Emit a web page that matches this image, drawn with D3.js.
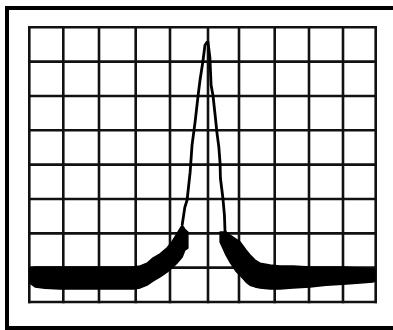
<!DOCTYPE html>
<html>
<head>
<meta charset="utf-8">
<script src="https://cdn.jsdelivr.net/npm/d3@7"></script>
<style>
  html, body { margin: 0; padding: 0; background: #fff; }
  svg { display: block; }
</style>
</head>
<body>
<svg id="chart" width="393" height="330"></svg>
<script>
// ---- data (in screen divisions) ----
const xTicks = [0, 1, 2, 3, 4, 5, 6, 7, 8, 9, 10];
const yTicks = [0, 1, 2, 3, 4, 5, 6, 7, 8];

// noisy baseline envelope, left skirt
const leftBandX  = [0.02, 0.17, 0.46, 0.90, 1.47, 2.03, 2.57, 2.93, 3.13, 3.33, 3.50, 3.71, 3.91, 4.05, 4.18, 4.32, 4.39, 4.47];
const leftBandHi = [0.99, 1.02, 1.02, 1.02, 1.02, 1.02, 1.02, 1.02, 1.05, 1.13, 1.28, 1.40, 1.57, 1.75, 1.98, 2.24, 2.12, 2.04];
const leftBandLo = [0.55, 0.44, 0.40, 0.38, 0.38, 0.38, 0.38, 0.38, 0.41, 0.49, 0.61, 0.73, 0.87, 0.99, 1.13, 1.31, 1.51, 1.57];

// noisy baseline envelope, right skirt
const rightBandX  = [5.39, 5.58, 5.71, 5.90, 6.03, 6.20, 6.31, 6.45, 6.59, 6.87, 7.15, 7.53, 8.03, 8.50, 9.00, 9.52, 9.91, 9.98];
const rightBandHi = [2.04, 2.04, 1.95, 1.83, 1.75, 1.51, 1.37, 1.22, 1.13, 1.08, 1.05, 1.05, 1.02, 1.02, 1.02, 0.99, 0.96, 0.93];
const rightBandLo = [1.75, 1.37, 1.16, 0.90, 0.78, 0.58, 0.49, 0.44, 0.41, 0.38, 0.38, 0.41, 0.44, 0.49, 0.52, 0.55, 0.58, 0.61];

// peak trace
const peakX = [4.32, 4.39, 4.45, 4.53, 4.58, 4.66, 4.74, 4.79, 4.87, 4.92, 4.97, 5.00, 5.06, 5.10, 5.16, 5.23, 5.29, 5.35, 5.39, 5.40, 5.48, 5.53, 5.55];
const peakY = [2.24, 2.76, 2.97, 3.78, 4.57, 5.24, 6.02, 6.46, 7.04, 7.48, 7.56, 7.56, 7.13, 6.31, 6.02, 5.44, 4.92, 4.51, 4.04, 3.61, 3.03, 2.53, 2.04];

// ---- drawing ----
const svg = d3.select("#chart");

// scanned graticule columns are slightly uneven
const x = d3.scaleLinear().domain(xTicks).range([29.3, 63.3, 99, 135.7, 170, 208, 239, 274.7, 309, 343, 375.7]);
const y = d3.scaleLinear().domain([0, 8]).range([302, 27.3]);

// outer frame
svg.append("rect")
  .attr("x", 7).attr("y", 8)
  .attr("width", 410).attr("height", 320)
  .attr("fill", "none").attr("stroke", "#000").attr("stroke-width", 4);

// grid
const g = svg.append("g").attr("stroke", "#111").attr("stroke-width", 2.6);
g.selectAll(".vx").data(xTicks).join("line")
  .attr("x1", d => x(d)).attr("x2", d => x(d))
  .attr("y1", y(0) + 1.3).attr("y2", y(8) - 1.3);
g.selectAll(".hy").data(yTicks).join("line")
  .attr("y1", d => y(d)).attr("y2", d => y(d))
  .attr("x1", x(0) - 1.3).attr("x2", x(10) + 1.3);

// bands
const area = d3.area()
  .x(d => x(d.x)).y0(d => y(d.lo)).y1(d => y(d.hi))
  .curve(d3.curveLinear);

const leftBand = leftBandX.map((v, i) => ({x: v, hi: leftBandHi[i], lo: leftBandLo[i]}));
const rightBand = rightBandX.map((v, i) => ({x: v, hi: rightBandHi[i], lo: rightBandLo[i]}));

[leftBand, rightBand].forEach(b => {
  svg.append("path").datum(b)
    .attr("d", area)
    .attr("fill", "#000").attr("stroke", "#000").attr("stroke-width", 1.5)
    .attr("stroke-linejoin", "round");
});

// peak line
const peak = peakX.map((v, i) => ({x: v, y: peakY[i]}));
svg.append("path").datum(peak)
  .attr("d", d3.line().x(d => x(d.x)).y(d => y(d.y)))
  .attr("fill", "none").attr("stroke", "#000").attr("stroke-width", 2.8)
  .attr("stroke-linejoin", "miter");
</script>
</body>
</html>
